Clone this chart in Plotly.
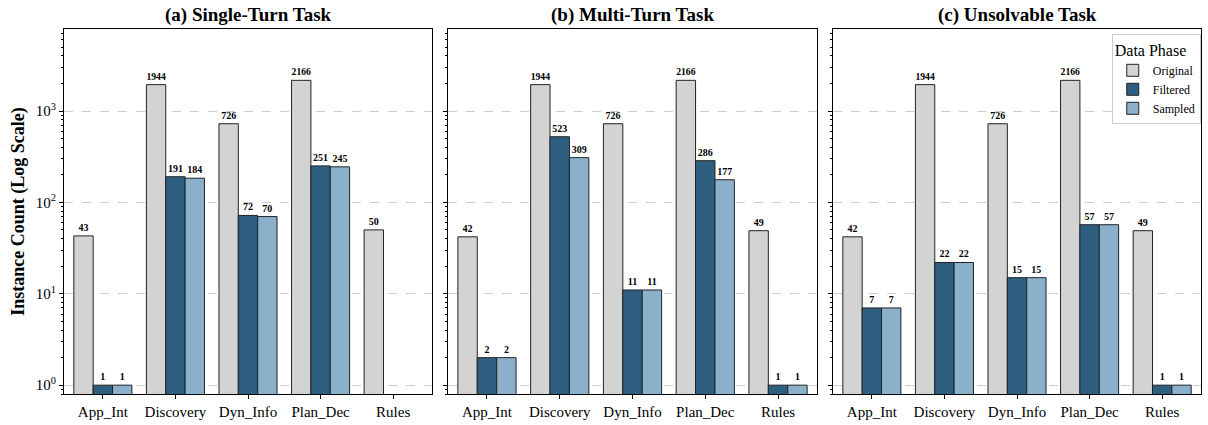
import plotly.graph_objects as go
import math

categories = ["App_Int", "Discovery", "Dyn_Info", "Plan_Dec", "Rules"]
panel_titles = ["(a) Single-Turn Task", "(b) Multi-Turn Task", "(c) Unsolvable Task"]

single_original = [43, 1944, 726, 2166, 50]
single_filtered = [1, 191, 72, 251, 0]
single_sampled = [1, 184, 70, 245, 0]

multi_original = [42, 1944, 726, 2166, 49]
multi_filtered = [2, 523, 11, 286, 1]
multi_sampled = [2, 309, 11, 177, 1]

unsolv_original = [42, 1944, 726, 2166, 49]
unsolv_filtered = [7, 22, 15, 57, 1]
unsolv_sampled = [7, 22, 15, 57, 1]

series_names = ["Original", "Filtered", "Sampled"]
series_colors = ["#d3d3d3", "#2e5f80", "#8ab0cc"]

panels = [
    (single_original, single_filtered, single_sampled),
    (multi_original, multi_filtered, multi_sampled),
    (unsolv_original, unsolv_filtered, unsolv_sampled),
]

FONT = "Liberation Serif"
fig = go.Figure()

for p, data in enumerate(panels):
    xa = "x" if p == 0 else f"x{p+1}"
    ya = "y" if p == 0 else f"y{p+1}"
    for s, vals in enumerate(data):
        yvals = [v if v > 0 else None for v in vals]
        txt = [f"<b>{v}</b>" if v > 0 else "" for v in vals]
        fig.add_trace(go.Bar(
            x=categories, y=yvals, name=series_names[s],
            marker=dict(color=series_colors[s], line=dict(color="#222222", width=1)),
            text=txt, textposition="outside", texttemplate="%{text}",
            textfont=dict(family=FONT, size=10, color="black"),
            cliponaxis=False,
            xaxis=xa, yaxis=ya, offsetgroup=str(s),
            showlegend=(p == 2), legendgroup=series_names[s],
        ))

domains = [[0.053, 0.3576], [0.3709, 0.6763], [0.6896, 0.9942]]
ydom = [0.0729, 0.9318]
yrange = [math.log10(0.8), math.log10(7900)]
major = [1, 10, 100, 1000]
minor_vals = [0.8, 0.9] + [m * 10 ** e for e in range(0, 4) for m in range(2, 10)]

layout = dict(
    width=1208, height=425,
    margin=dict(l=0, r=0, t=0, b=0),
    paper_bgcolor="white", plot_bgcolor="white",
    barmode="group", bargap=0.2, bargroupgap=0,
    font=dict(family=FONT, size=14, color="black"),
    legend=dict(
        title=dict(text="Data Phase", font=dict(family=FONT, size=16)),
        font=dict(family=FONT, size=12),
        x=0.994, xanchor="right", y=0.92, yanchor="top",
        bordercolor="#cccccc", borderwidth=1, bgcolor="rgba(255,255,255,0.85)",
        itemwidth=30, tracegroupgap=0,
    ),
)

annotations = []
for p in range(3):
    xk = "xaxis" if p == 0 else f"xaxis{p+1}"
    yk = "yaxis" if p == 0 else f"yaxis{p+1}"
    layout[xk] = dict(
        domain=domains[p], anchor="y" if p == 0 else f"y{p+1}",
        range=[-0.535, 4.535], showline=True, mirror=True, linecolor="black", linewidth=1,
        ticks="outside", ticklen=4, tickcolor="black",
        tickfont=dict(family=FONT, size=15), showgrid=False,
    )
    layout[yk] = dict(
        domain=ydom, anchor="x" if p == 0 else f"x{p+1}",
        type="log", range=yrange,
        showline=True, mirror=True, linecolor="black", linewidth=1,
        ticks="outside", ticklen=4, tickcolor="black",
        tickvals=major,
        ticktext=[f"10<sup>{e}</sup>" for e in range(4)] if p == 0 else ["", "", "", ""],
        showticklabels=(p == 0),
        tickfont=dict(family=FONT, size=15),
        showgrid=True, gridcolor="#cccccc", griddash="dash", gridwidth=1,
        minor=dict(tickvals=minor_vals, ticks="outside", ticklen=2, tickcolor="black", showgrid=False),
        zeroline=False,
    )
    annotations.append(dict(
        text=f"<b>{panel_titles[p]}</b>", x=(domains[p][0] + domains[p][1]) / 2, y=0.965,
        xref="paper", yref="paper", xanchor="center", yanchor="middle", showarrow=False,
        font=dict(family=FONT, size=19),
    ))

layout["yaxis"]["title"] = dict(text="<b>Instance Count (Log Scale)</b>", font=dict(family=FONT, size=18), standoff=6)
layout["annotations"] = annotations
fig.update_layout(**layout)
fig.write_html("out.html", config={"displayModeBar": False},
               post_script="document.body.style.margin='0';document.body.style.padding='0';")
